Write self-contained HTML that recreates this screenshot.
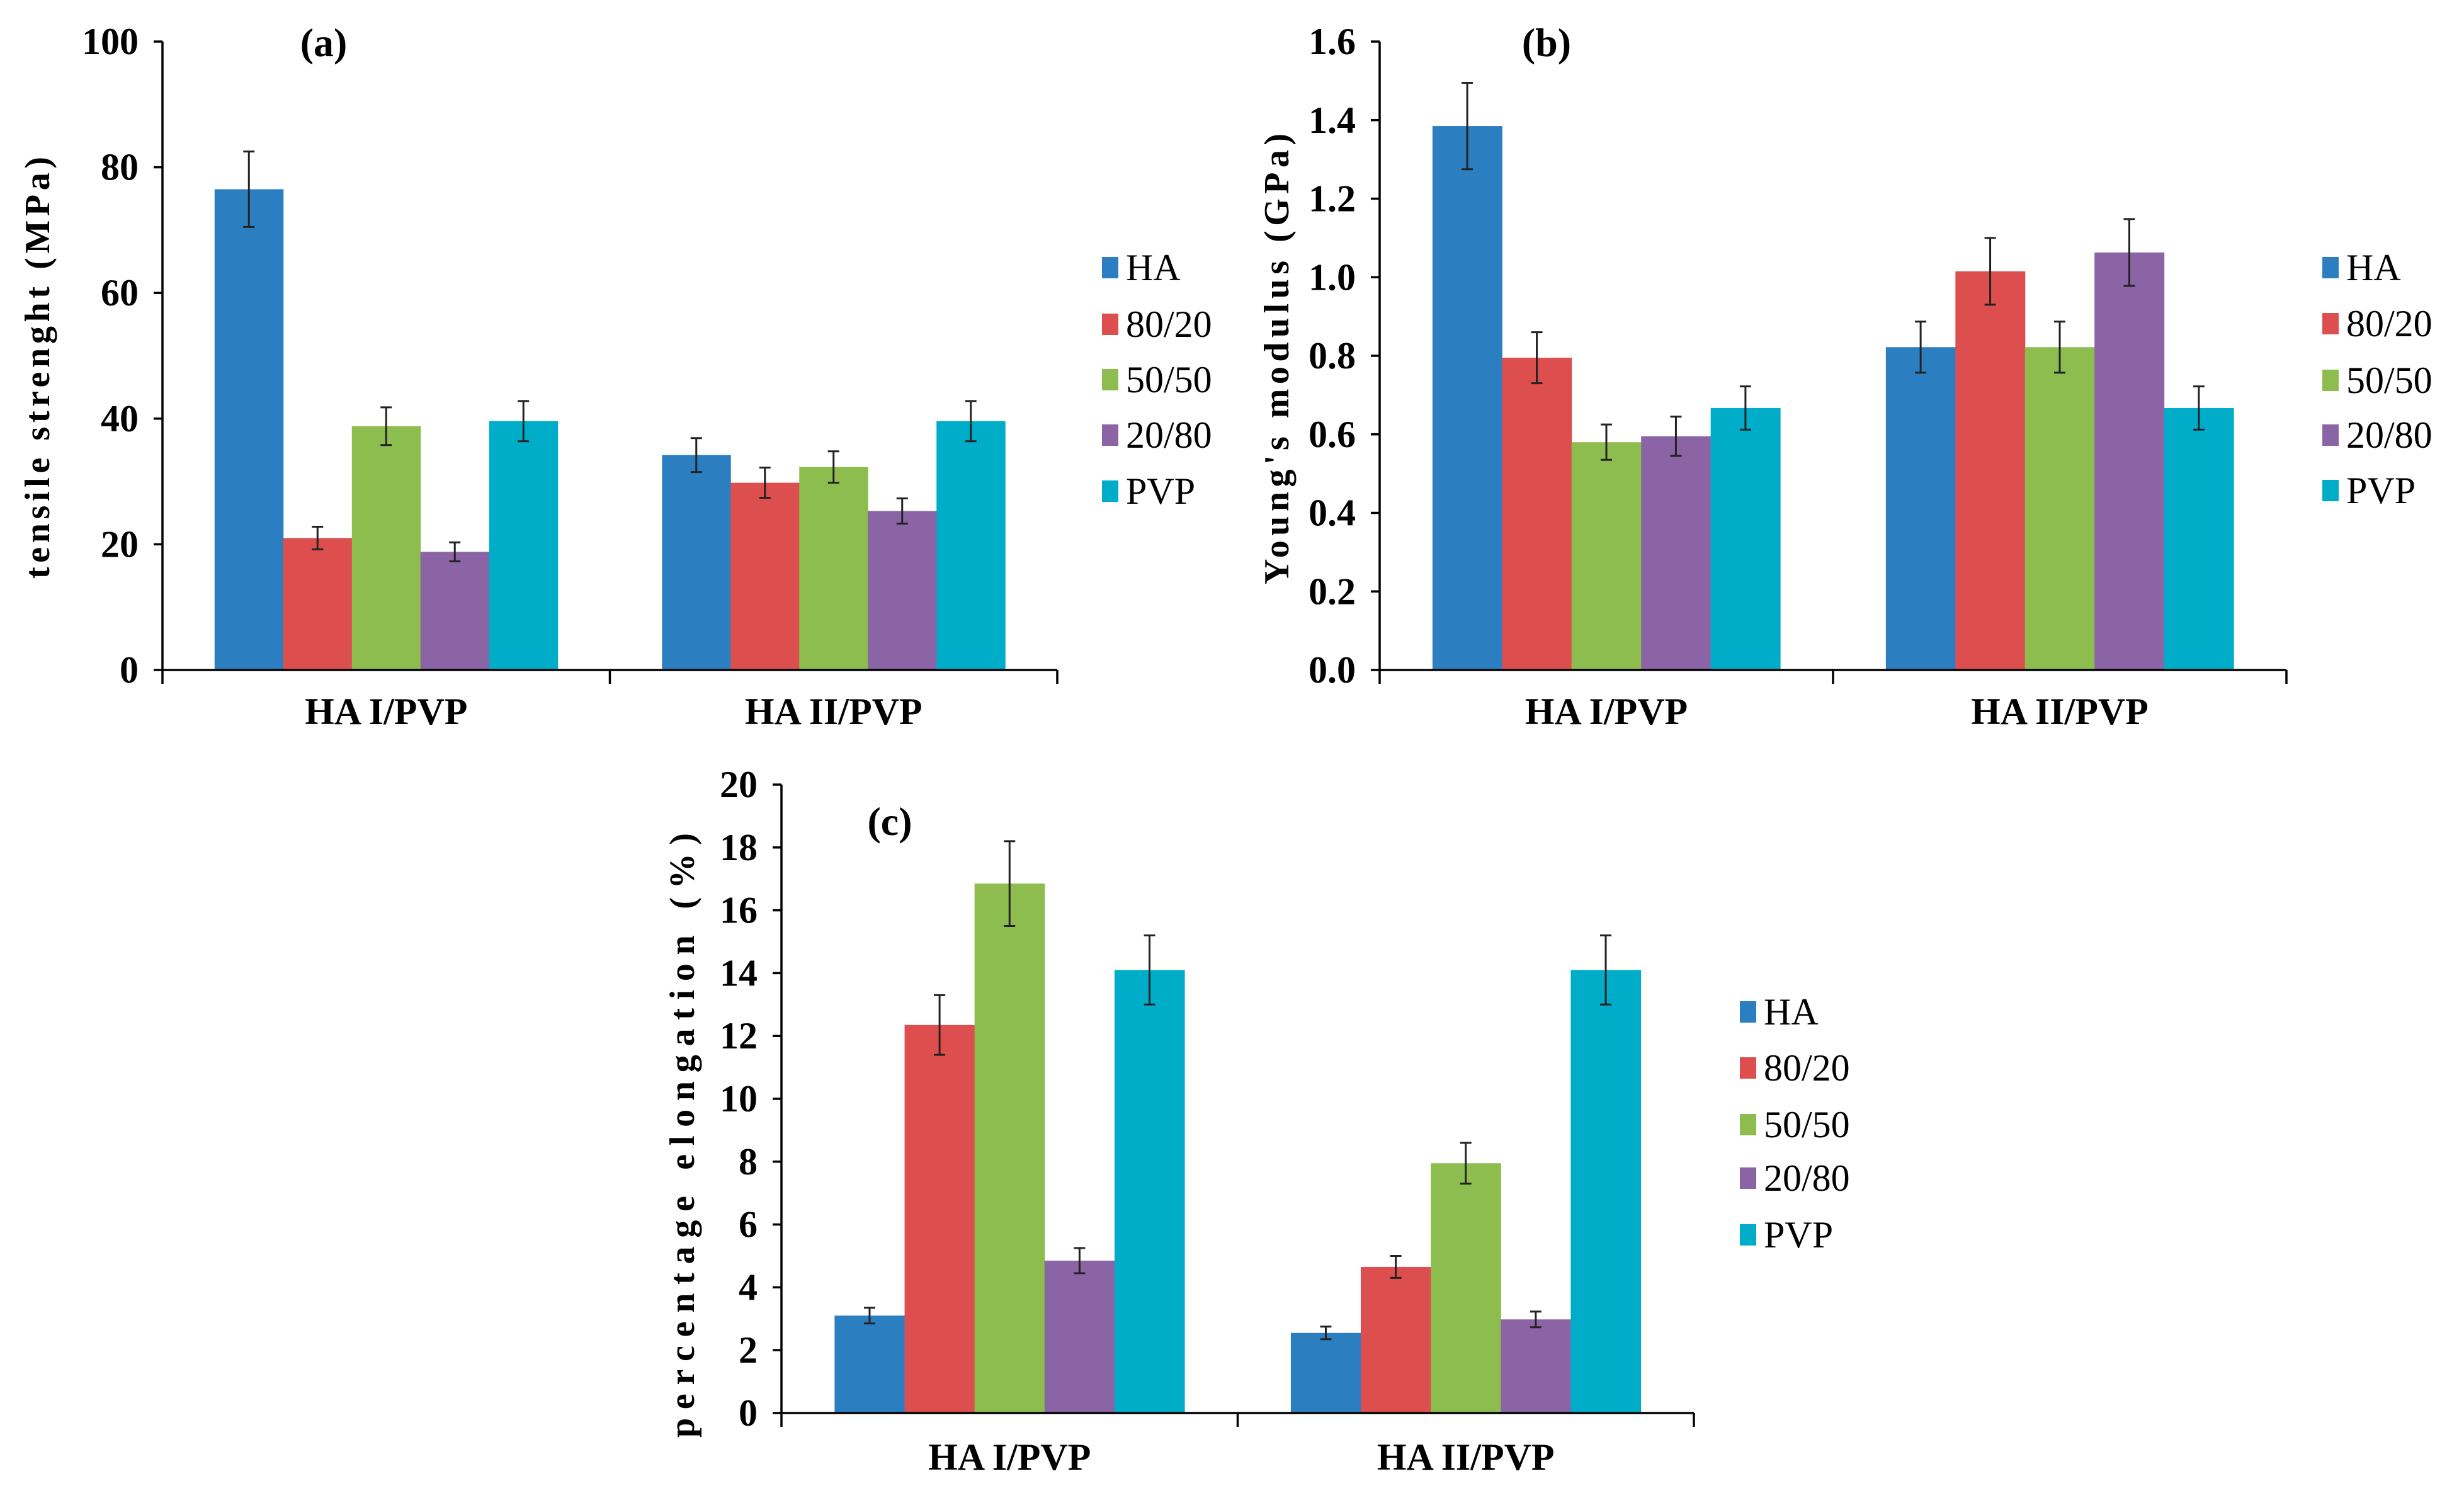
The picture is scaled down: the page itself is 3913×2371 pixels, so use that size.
<!DOCTYPE html>
<html><head><meta charset="utf-8"><style>
html,body{margin:0;padding:0;background:#fff;}
svg{display:block;}
text{font-family:"Liberation Serif",serif;fill:#000;}
</style></head><body>
<svg id="chart" width="3913" height="2371" viewBox="0 0 3913 2371" xmlns="http://www.w3.org/2000/svg"></svg>
<script>
const categories = ["HA I/PVP", "HA II/PVP"];
const seriesNames = ["HA", "80/20", "50/50", "20/80", "PVP"];
const colors = ["#2b7fc1", "#dc4f4e", "#8dbd4f", "#8b64a6", "#00adc8"];
// panel a: tensile strength
const tensileValues = [[76.5, 21.0, 38.8, 18.8, 39.6], [34.2, 29.8, 32.3, 25.3, 39.6]];
const tensileErrors = [[6.0, 1.8, 3.0, 1.5, 3.2], [2.7, 2.4, 2.5, 2.0, 3.2]];
const tensileTicks = ["0", "20", "40", "60", "80", "100"];
// panel b: Young's modulus
const modulusValues = [[1.385, 0.795, 0.58, 0.595, 0.667], [0.822, 1.015, 0.822, 1.063, 0.667]];
const modulusErrors = [[0.11, 0.065, 0.045, 0.05, 0.055], [0.065, 0.085, 0.065, 0.085, 0.055]];
const modulusTicks = ["0.0", "0.2", "0.4", "0.6", "0.8", "1.0", "1.2", "1.4", "1.6"];
// panel c: elongation
const elongValues = [[3.1, 12.35, 16.85, 4.85, 14.1], [2.55, 4.65, 7.95, 2.98, 14.1]];
const elongErrors = [[0.25, 0.95, 1.35, 0.4, 1.1], [0.2, 0.35, 0.65, 0.25, 1.1]];
const elongTicks = ["0", "2", "4", "6", "8", "10", "12", "14", "16", "18", "20"];

const svg = document.getElementById('chart');
const NS = "http://www.w3.org/2000/svg";
function mk(tag, attrs, parent) {
  const e = document.createElementNS(NS, tag);
  for (const k in attrs) e.setAttribute(k, attrs[k]);
  parent.appendChild(e);
  return e;
}
function panel(cfg) {
  const g = mk('g', {}, svg);
  
  
  const maxV = parseFloat(cfg.ticks[cfg.ticks.length - 1]);
  const y = v => cfg.y0 - (v / maxV) * (cfg.y0 - cfg.yTop);
  const catW = (cfg.xEnd - cfg.x0) / categories.length;
  const barW = catW * 0.767 / seriesNames.length;
  const x = (ci, si) => cfg.x0 + ci * catW + catW * 0.1165 + si * barW;
  categories.forEach((c, ci) => {
    seriesNames.forEach((s, si) => {
      const v = cfg.values[ci][si];
      const r = mk('rect', {x: x(ci, si), y: y(v), width: barW + 0.5, height: cfg.y0 - y(v), fill: colors[si]}, g);
      
      
    });
  });
  categories.forEach((c, ci) => {
    seriesNames.forEach((s, si) => {
      const v = cfg.values[ci][si], e = cfg.errors[ci][si];
      const cx = x(ci, si) + barW / 2;
      const eg = mk('g', {stroke: '#222', 'stroke-width': 3}, g);
      
      
      mk('line', {x1: cx, x2: cx, y1: y(v + e), y2: y(v - e)}, eg);
      mk('line', {x1: cx - 9, x2: cx + 9, y1: y(v + e), y2: y(v + e)}, eg);
      mk('line', {x1: cx - 9, x2: cx + 9, y1: y(v - e), y2: y(v - e)}, eg);
    });
  });
  const ax = mk('g', {stroke: '#000', 'stroke-width': 3.5}, g);
  
  
  mk('line', {x1: cfg.x0, x2: cfg.x0, y1: cfg.yTop, y2: cfg.y0}, ax);
  mk('line', {x1: cfg.x0, x2: cfg.xEnd, y1: cfg.y0, y2: cfg.y0}, ax);
  for (let i = 0; i <= categories.length; i++) {
    const tx = cfg.x0 + i * catW;
    mk('line', {x1: tx, x2: tx, y1: cfg.y0, y2: cfg.y0 + 22}, ax);
  }
  cfg.ticks.forEach(t => {
    const ty = y(parseFloat(t));
    mk('line', {x1: cfg.x0 - 14, x2: cfg.x0, y1: ty, y2: ty}, ax);
    const tl = mk('text', {x: cfg.x0 - 38, y: ty + 20, 'text-anchor': 'end', 'font-size': 60, 'font-weight': 'bold'}, g);
    
    
    tl.textContent = t;
  });
  categories.forEach((c, ci) => {
    const t = mk('text', {x: cfg.x0 + (ci + 0.5) * catW, y: cfg.catY, 'text-anchor': 'middle', 'font-size': 60, 'font-weight': 'bold'}, g);
    
    
    t.textContent = c;
  });
  const tt = mk('text', {x: 0, y: 0, 'text-anchor': 'middle', 'font-size': 56, 'font-weight': 'bold', textLength: cfg.titleLen, lengthAdjust: 'spacing', transform: 'translate(' + cfg.titleX + ',' + cfg.titleY + ') rotate(-90)'}, g);
  
  
  tt.textContent = cfg.title;
  const pl = mk('text', {x: cfg.labX, y: cfg.labY + 22, 'text-anchor': 'middle', 'font-size': 64, 'font-weight': 'bold'}, g);
  
  
  pl.textContent = '(' + cfg.id + ')';
  seriesNames.forEach((s, si) => {
    const ly = cfg.legY[si];
    const lg = mk('g', {}, g);
    
    
    mk('rect', {x: cfg.legX, y: ly - 17, width: 26, height: 34, fill: colors[si]}, lg);
    const lt = mk('text', {x: cfg.legX + 38, y: ly + 20, 'font-size': 60}, lg);
    lt.textContent = s;
  });
}
panel({id: 'a', values: tensileValues, errors: tensileErrors, ticks: tensileTicks,
  x0: 258, xEnd: 1679, yTop: 66, y0: 1064, catY: 1150,
  title: 'tensile strenght (MPa)', titleX: 78, titleY: 584, titleLen: 670,
  labX: 514, labY: 67, legX: 1750, legY: [425, 515, 603, 691, 780]});
panel({id: 'b', values: modulusValues, errors: modulusErrors, ticks: modulusTicks,
  x0: 2191, xEnd: 3631, yTop: 66, y0: 1064, catY: 1150,
  title: "Young's modulus (GPa)", titleX: 2046, titleY: 570, titleLen: 716,
  labX: 2456, labY: 67, legX: 3688, legY: [425, 514, 604, 691, 779]});
panel({id: 'c', values: elongValues, errors: elongErrors, ticks: elongTicks,
  x0: 1241, xEnd: 2690, yTop: 1246, y0: 2244, catY: 2334,
  title: 'percentage elongation (%)', titleX: 1102, titleY: 1803, titleLen: 960,
  labX: 1413, labY: 1304, legX: 2763, legY: [1607, 1696, 1786, 1871, 1961]});
</script>
</body></html>
